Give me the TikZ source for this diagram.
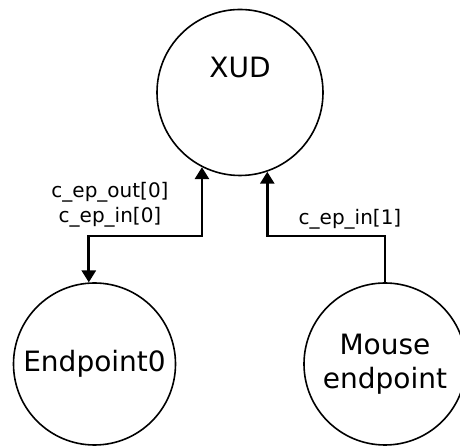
\documentclass[tikz,border=0pt]{standalone}
\usepackage{fontspec}
\setmainfont{DejaVu Sans}
\usetikzlibrary{arrows.meta}

\tikzstyle{endpt} = [draw=black, line width=1.6pt, circle, inner sep=0pt,
    font=\fontsize{28}{34}\selectfont, align=center]
\tikzstyle{chan} = [draw=black, line width=2.8pt,
    >={Triangle[width=14pt,length=12pt]}]
\tikzstyle{chanlabel} = [font=\fontsize{20}{25}\selectfont, align=center]

\begin{document}
\begin{tikzpicture}[x=1pt,y=1pt]
\useasboundingbox (0,0) rectangle (460,446);

\node [endpt, minimum size=166pt, text height=20pt, text depth=50pt] (xud) at (240,353.5) {XUD};
\node [endpt, minimum size=162pt] (ep0) at (94.5,82) {Endpoint0};
\node [endpt, minimum size=162pt] (mouse) at (385,82) {Mouse\\endpoint};

\coordinate (bus) at (0,210);

\draw [chan, <->] (xud.243) -- (xud.243 |- bus) -| (ep0.94);
\draw [chan, ->] (mouse.north) -- (mouse.north |- bus) -| (xud.289);

\node [chanlabel] (lbl0) at (110,241.5) {c\_ep\_out[0]\\c\_ep\_in[0]};
\node [chanlabel] (lbl1) at (350,227) {c\_ep\_in[1]};
\end{tikzpicture}
\end{document}
